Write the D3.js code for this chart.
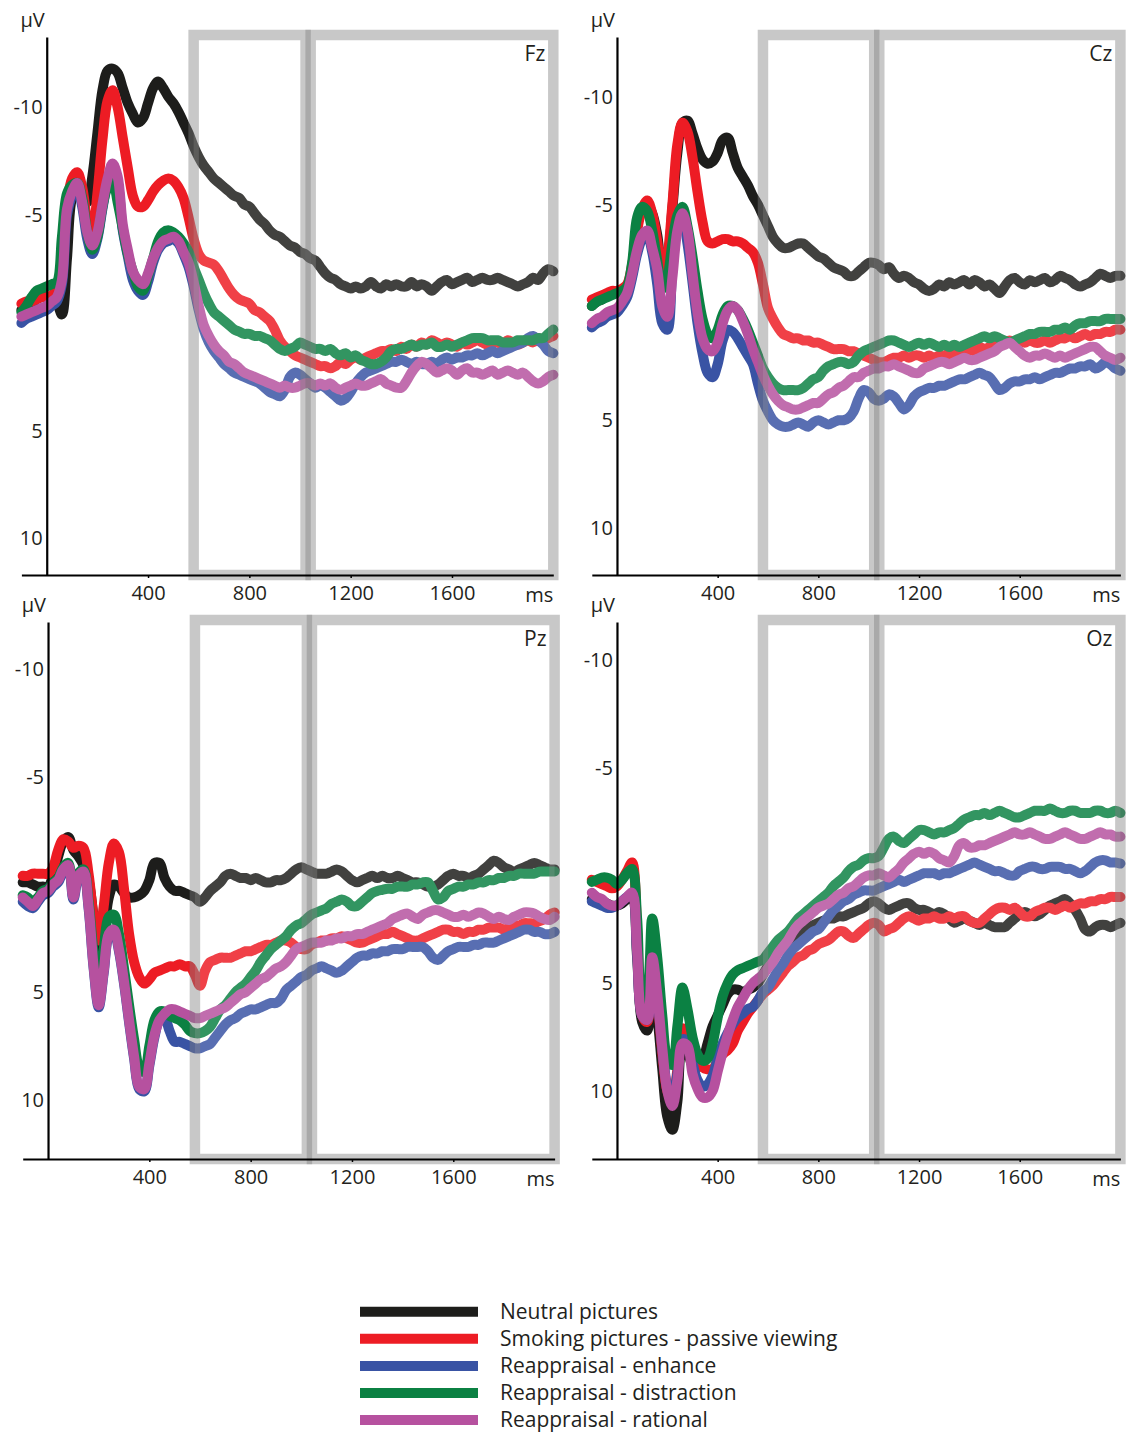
<!DOCTYPE html>
<html>
<head>
<meta charset="utf-8">
<script src="https://cdn.jsdelivr.net/npm/d3@7"></script>
<style>
  body { margin: 0; background: #fff; }
  text { font-family: "Open Sans", sans-serif; fill: #231f20; }
</style>
</head>
<body>
<div id="chart"></div>
<script>
// Canvas size
var svgWidth = 1127;
var svgHeight = 1433;

// Sample times in ms (one sample every 20 ms, -100 .. 2000)
var times = d3.range(-100, 2001, 20);

// Conditions and their colours (legend order = drawing order)
var conditions = ["Neutral pictures", "Smoking pictures - passive viewing",
  "Reappraisal - enhance", "Reappraisal - distraction", "Reappraisal - rational"];
var colors = ["#1d1d1b", "#ed1c24", "#3953a4", "#0b8143", "#b6519f"];

// Tick labels
var xTicks = [400, 800, 1200, 1600];
var yTicks = [-10, -5, 5, 10];

// Analysis windows (ms)
var windows = [[580, 1022], [1042, 2000]];

// ---- Fz (µV) ----
var fzNeutral = [-0.6,-0.7,-0.9,-1.1,-1.2,-1.2,-1.0,-0.9,-0.4,-3.0,
  -5.8,-6.2,-5.8,-5.6,-6.8,-8.8,-10.8,-11.7,-11.8,-11.6,
  -10.9,-10.2,-9.7,-9.3,-9.5,-10.2,-10.9,-11.2,-10.9,-10.5,
  -10.2,-9.8,-9.3,-8.8,-8.2,-7.7,-7.3,-7.0,-6.7,-6.5,
  -6.3,-6.1,-5.9,-5.8,-5.5,-5.4,-5.1,-4.8,-4.6,-4.3,
  -4.1,-4.0,-3.8,-3.6,-3.5,-3.3,-3.2,-3.0,-2.9,-2.6,
  -2.3,-2.1,-2.0,-1.8,-1.7,-1.6,-1.7,-1.6,-1.7,-1.9,
  -1.7,-1.6,-1.8,-1.7,-1.8,-1.7,-1.7,-1.9,-1.7,-1.8,
  -1.7,-1.5,-1.7,-1.9,-2.0,-1.8,-1.9,-2.0,-2.1,-1.9,
  -2.0,-2.1,-2.0,-2.0,-2.1,-2.0,-1.9,-1.8,-1.7,-1.8,
  -1.9,-2.1,-2.0,-2.3,-2.5,-2.4];
var fzSmoking = [-0.9,-1.0,-1.0,-1.1,-1.2,-1.2,-1.3,-1.5,-2.5,-5.5,
  -6.7,-7.0,-6.3,-4.8,-4.2,-6.0,-8.5,-10.3,-10.8,-10.0,
  -8.6,-7.2,-5.9,-5.4,-5.4,-5.7,-6.1,-6.4,-6.6,-6.7,
  -6.6,-6.3,-5.8,-4.9,-3.9,-3.2,-2.9,-2.8,-2.7,-2.4,
  -2.0,-1.6,-1.3,-1.1,-1.0,-0.9,-0.6,-0.5,-0.3,-0.1,
  0.3,0.8,1.1,1.3,1.5,1.6,1.7,1.8,1.9,2.0,
  2.0,2.1,2.0,1.8,1.9,1.7,1.6,1.7,1.6,1.5,
  1.4,1.3,1.3,1.2,1.3,1.1,1.2,1.0,1.1,0.9,
  1.0,0.8,0.9,1.0,0.9,1.0,1.1,0.9,1.0,0.9,
  0.8,0.9,1.0,0.9,0.9,1.0,0.8,0.9,1.0,0.9,
  0.8,0.9,0.7,0.8,0.7,0.6];
var fzEnhance = [0.0,-0.2,-0.3,-0.4,-0.5,-0.6,-0.8,-1.0,-1.8,-5.0,
  -5.9,-6.3,-5.4,-3.9,-3.2,-3.9,-5.3,-6.5,-7.1,-6.5,
  -4.3,-3.1,-2.0,-1.5,-1.3,-1.9,-2.8,-3.4,-3.7,-3.8,
  -3.9,-3.7,-3.2,-2.6,-1.7,-0.6,0.3,0.9,1.3,1.6,
  1.9,2.1,2.3,2.4,2.5,2.6,2.7,2.8,3.0,3.2,
  3.3,3.4,3.1,2.5,2.3,2.4,2.6,2.8,3.0,2.9,
  3.0,3.2,3.4,3.6,3.5,3.2,2.8,2.5,2.3,2.2,
  2.1,2.0,1.9,1.8,1.8,1.7,1.8,1.9,1.8,1.9,
  1.9,1.8,1.9,1.7,1.6,1.7,1.6,1.6,1.5,1.5,
  1.4,1.5,1.4,1.3,1.4,1.3,1.2,1.1,1.0,0.9,
  0.7,0.6,0.8,1.0,1.3,1.4];
var fzDistraction = [-0.5,-0.8,-1.2,-1.5,-1.6,-1.7,-1.8,-1.9,-4.0,-6.0,
  -6.4,-6.5,-5.8,-4.2,-3.4,-4.0,-5.4,-6.3,-6.6,-5.6,
  -4.4,-3.2,-2.4,-1.7,-1.5,-2.2,-3.0,-3.8,-4.2,-4.3,
  -4.2,-4.0,-3.7,-3.3,-2.6,-2.0,-1.4,-0.9,-0.5,-0.3,
  -0.1,0.1,0.3,0.4,0.5,0.5,0.6,0.6,0.7,0.8,
  1.0,1.2,1.3,1.2,1.1,0.9,1.0,1.1,1.2,1.2,
  1.3,1.2,1.4,1.5,1.4,1.6,1.5,1.7,1.8,1.9,
  1.9,1.8,1.6,1.3,1.2,1.2,1.1,1.0,1.1,1.0,
  1.0,0.9,1.1,1.1,1.0,1.1,1.0,0.9,0.8,0.7,
  0.7,0.7,0.8,0.8,0.8,0.9,0.9,0.9,0.8,0.8,
  0.8,0.8,0.7,0.7,0.5,0.3];
var fzRational = [-0.3,-0.4,-0.5,-0.6,-0.7,-0.8,-1.0,-1.2,-2.0,-5.3,
  -6.1,-6.5,-5.6,-4.2,-3.6,-4.2,-5.5,-6.7,-7.4,-6.8,
  -4.6,-3.4,-2.4,-2.0,-1.8,-2.3,-3.0,-3.5,-3.8,-3.9,
  -4.0,-3.8,-3.3,-2.8,-1.9,-0.8,0.1,0.6,1.0,1.3,
  1.5,1.8,1.9,2.1,2.3,2.4,2.5,2.6,2.7,2.8,
  2.9,3.0,2.9,3.0,3.0,2.9,2.8,2.8,2.9,2.8,
  2.9,2.8,3.0,3.1,3.0,2.9,2.8,2.9,2.9,2.8,
  2.7,2.6,2.8,2.9,3.0,3.0,2.7,2.3,2.0,1.8,
  1.9,2.1,2.3,2.2,2.1,2.2,2.4,2.2,2.1,2.3,
  2.3,2.4,2.3,2.2,2.4,2.3,2.2,2.3,2.4,2.3,
  2.5,2.7,2.8,2.7,2.5,2.4];

// ---- Cz (µV) ----
var czNeutral = [-0.3,-0.5,-0.6,-0.8,-0.9,-1.0,-1.0,-1.1,-2.0,-4.0,
  -4.8,-5.0,-4.6,-3.6,-2.0,-2.4,-4.8,-7.4,-8.8,-8.9,
  -8.3,-7.6,-7.1,-6.9,-7.0,-7.4,-8.0,-8.1,-7.4,-6.7,
  -6.3,-5.9,-5.4,-5.0,-4.5,-4.0,-3.5,-3.2,-3.0,-3.0,
  -3.1,-3.2,-3.2,-3.0,-2.8,-2.6,-2.5,-2.3,-2.1,-2.0,
  -1.9,-1.7,-1.7,-1.9,-2.1,-2.3,-2.3,-2.2,-2.0,-2.1,
  -1.8,-1.6,-1.7,-1.6,-1.4,-1.3,-1.1,-1.0,-1.1,-1.3,
  -1.2,-1.4,-1.3,-1.4,-1.5,-1.3,-1.5,-1.4,-1.2,-1.3,
  -1.1,-0.9,-1.2,-1.5,-1.6,-1.4,-1.3,-1.5,-1.4,-1.5,
  -1.6,-1.4,-1.5,-1.7,-1.6,-1.5,-1.3,-1.2,-1.3,-1.4,
  -1.6,-1.8,-1.7,-1.6,-1.7,-1.7];
var czSmoking = [-0.6,-0.7,-0.8,-0.9,-1.0,-1.0,-1.1,-1.3,-2.2,-3.8,
  -4.8,-5.2,-4.6,-3.3,-1.8,-2.6,-5.0,-7.8,-8.8,-8.4,
  -7.2,-5.6,-4.2,-3.3,-3.2,-3.3,-3.4,-3.4,-3.3,-3.3,
  -3.2,-3.0,-2.8,-2.3,-1.3,-0.2,0.3,0.7,1.0,1.1,
  1.2,1.2,1.3,1.3,1.4,1.4,1.5,1.6,1.7,1.7,
  1.7,1.8,1.8,1.9,2.0,2.1,2.2,2.3,2.3,2.2,
  2.1,2.1,2.0,2.1,2.0,2.0,2.1,2.0,2.1,2.0,
  2.0,1.9,2.0,1.8,1.9,1.7,1.8,1.6,1.7,1.6,
  1.5,1.4,1.4,1.3,1.4,1.3,1.4,1.3,1.4,1.4,
  1.3,1.4,1.3,1.2,1.2,1.1,1.2,1.1,1.0,1.1,
  1.0,1.0,0.9,0.9,0.8,0.8];
var czEnhance = [0.7,0.5,0.4,0.2,0.1,0.0,-0.3,-0.7,-1.6,-2.7,
  -3.4,-3.6,-2.8,-1.3,0.5,0.8,-2.0,-4.0,-4.4,-3.2,
  -1.4,0.5,1.9,2.8,3.0,2.4,1.3,0.8,0.9,1.2,
  1.6,2.0,2.4,3.3,4.1,4.6,5.0,5.2,5.3,5.3,
  5.2,5.1,5.2,5.3,5.1,5.0,5.1,5.2,5.1,5.0,
  5.0,4.9,4.6,4.0,3.6,3.7,4.0,4.1,4.0,3.8,
  3.9,4.2,4.5,4.3,3.9,3.7,3.6,3.5,3.5,3.4,
  3.4,3.3,3.2,3.1,3.1,3.0,2.9,2.8,2.9,3.0,
  3.3,3.6,3.5,3.3,3.2,3.2,3.1,3.1,3.0,3.1,
  3.0,2.9,2.8,2.8,2.7,2.6,2.6,2.5,2.5,2.4,
  2.6,2.5,2.3,2.4,2.6,2.7];
var czDistraction = [-0.3,-0.5,-0.6,-0.7,-0.8,-0.9,-1.0,-1.2,-2.3,-4.4,
  -4.9,-4.7,-3.8,-2.4,-1.1,-1.6,-3.2,-4.5,-4.9,-4.0,
  -2.6,-1.0,0.3,1.0,1.2,0.8,0.1,-0.3,-0.3,-0.1,
  0.3,0.8,1.4,2.0,2.6,3.0,3.3,3.5,3.6,3.6,
  3.6,3.6,3.5,3.3,3.1,3.0,2.7,2.5,2.4,2.3,
  2.3,2.4,2.3,2.0,1.8,1.7,1.6,1.5,1.4,1.3,
  1.3,1.4,1.5,1.6,1.5,1.4,1.5,1.4,1.5,1.6,
  1.5,1.6,1.5,1.6,1.5,1.4,1.3,1.2,1.1,1.2,
  1.1,1.2,1.3,1.4,1.3,1.2,1.1,1.0,1.0,0.9,
  0.9,0.9,0.8,0.8,0.7,0.8,0.6,0.5,0.5,0.4,
  0.4,0.4,0.3,0.3,0.3,0.3];
var czRational = [0.5,0.3,0.2,0.0,-0.1,-0.2,-0.5,-0.9,-1.8,-2.9,
  -3.6,-3.8,-3.0,-2.0,-0.3,0.2,-1.6,-3.8,-4.6,-3.8,
  -1.8,0.0,1.2,1.7,1.8,1.4,0.5,-0.1,-0.3,-0.1,
  0.4,1.0,1.7,2.3,2.9,3.4,3.8,4.1,4.3,4.4,
  4.5,4.5,4.4,4.3,4.2,4.2,4.0,3.8,3.7,3.5,
  3.4,3.2,3.0,3.0,2.8,2.7,2.6,2.6,2.5,2.5,
  2.4,2.5,2.6,2.7,2.8,2.8,2.6,2.5,2.4,2.3,
  2.3,2.4,2.3,2.2,2.1,2.2,2.2,2.1,2.0,1.9,
  1.8,1.6,1.5,1.4,1.6,1.8,2.0,2.1,2.0,2.0,
  1.9,2.0,2.1,2.0,2.1,2.0,1.9,1.8,1.7,1.6,
  1.6,1.8,2.0,2.1,2.2,2.1];

// ---- Pz (µV) ----
var pzNeutral = [-0.1,-0.1,0.0,0.1,0.1,0.1,-0.4,-1.3,-2.0,-2.2,
  -1.6,-1.3,-0.9,-0.2,1.5,3.0,2.2,0.6,0.0,0.1,
  0.4,0.6,0.6,0.5,0.3,-0.2,-1.0,-1.0,-0.3,0.1,
  0.3,0.3,0.4,0.5,0.6,0.8,0.6,0.3,0.1,-0.1,
  -0.4,-0.5,-0.4,-0.3,-0.3,-0.2,-0.3,-0.2,-0.1,-0.1,
  -0.2,-0.2,-0.3,-0.5,-0.7,-0.8,-0.7,-0.6,-0.5,-0.5,
  -0.5,-0.6,-0.7,-0.6,-0.4,-0.2,-0.1,-0.2,-0.3,-0.4,
  -0.3,-0.4,-0.3,-0.3,-0.4,-0.3,-0.2,-0.1,-0.1,0.0,
  0.1,0.1,0.0,-0.2,-0.4,-0.5,-0.4,-0.4,-0.3,-0.4,
  -0.5,-0.7,-0.9,-1.1,-1.0,-0.8,-0.7,-0.6,-0.7,-0.8,
  -0.9,-1.0,-0.9,-0.8,-0.7,-0.7];
var pzSmoking = [-0.4,-0.4,-0.5,-0.5,-0.5,-0.5,-0.8,-1.6,-2.1,-2.0,
  -1.7,-1.8,-1.7,-0.5,1.5,2.6,1.0,-1.0,-1.9,-1.5,
  0.2,2.3,3.6,4.3,4.6,4.4,4.1,4.0,3.9,3.8,
  3.8,3.7,3.8,3.8,4.2,4.7,4.0,3.6,3.5,3.4,
  3.4,3.4,3.3,3.2,3.1,3.1,3.0,2.9,2.8,2.8,
  2.7,2.6,2.6,2.7,2.9,3.0,3.0,2.8,2.7,2.6,
  2.6,2.5,2.5,2.4,2.5,2.6,2.7,2.7,2.6,2.5,
  2.4,2.3,2.3,2.2,2.3,2.4,2.5,2.6,2.6,2.5,
  2.4,2.3,2.2,2.1,2.1,2.2,2.2,2.3,2.2,2.2,
  2.1,2.1,2.0,2.0,2.0,2.1,2.0,1.9,1.9,1.8,
  1.8,1.8,1.7,1.6,1.4,1.3];
var pzEnhance = [0.8,1.0,1.1,0.8,0.5,0.4,0.1,-0.1,-0.6,-0.8,
  0.7,-0.3,-0.5,1.1,3.9,5.7,4.1,2.4,2.2,3.1,
  4.6,6.4,8.1,9.5,9.6,8.4,7.1,6.3,6.2,6.8,
  7.3,7.3,7.4,7.5,7.6,7.6,7.5,7.4,7.1,6.8,
  6.5,6.3,6.2,6.0,5.9,5.8,5.8,5.7,5.6,5.5,
  5.5,5.3,4.9,4.7,4.5,4.3,4.2,4.0,3.9,3.8,
  3.9,4.0,4.1,4.0,3.8,3.6,3.4,3.3,3.3,3.2,
  3.2,3.1,3.1,3.0,3.0,3.0,2.9,2.9,2.9,2.9,
  3.1,3.4,3.5,3.3,3.1,3.0,2.9,2.9,2.9,2.8,
  2.8,2.7,2.7,2.7,2.6,2.5,2.4,2.3,2.2,2.1,
  2.1,2.2,2.2,2.3,2.3,2.2];
var pzDistraction = [0.5,0.6,0.8,0.6,0.3,0.2,-0.1,-0.3,-0.8,-1.0,
  0.4,-0.5,-0.7,0.8,3.2,4.8,3.0,1.5,1.4,2.3,
  3.9,5.6,7.2,8.5,8.7,7.5,6.3,5.9,5.9,6.1,
  6.2,6.3,6.5,6.8,6.9,6.9,6.8,6.6,6.2,5.8,
  5.6,5.3,5.0,4.8,4.6,4.3,4.0,3.6,3.3,3.0,
  2.8,2.6,2.4,2.1,1.9,1.8,1.6,1.4,1.3,1.2,
  1.1,0.9,0.8,0.7,0.8,1.0,1.0,0.8,0.6,0.4,
  0.3,0.25,0.2,0.2,0.1,0.1,0.1,0.0,0.0,-0.1,
  -0.1,0.3,0.7,0.6,0.3,0.2,0.1,0.1,0.0,0.0,
  -0.1,-0.1,-0.2,-0.2,-0.3,-0.3,-0.4,-0.4,-0.5,-0.5,
  -0.5,-0.5,-0.6,-0.6,-0.6,-0.6];
var pzRational = [0.6,0.8,1.0,0.7,0.4,0.3,0.0,-0.2,-0.7,-0.9,
  0.6,-0.4,-0.6,1.0,3.8,5.6,4.0,2.3,2.1,3.0,
  4.5,6.3,8.0,9.4,9.5,8.3,7.0,6.3,6.0,5.8,
  5.8,5.9,6.0,6.1,6.2,6.2,6.1,6.0,5.9,5.8,
  5.7,5.5,5.3,5.1,5.0,4.8,4.6,4.4,4.3,4.1,
  3.9,3.8,3.6,3.3,3.0,2.9,2.8,2.7,2.7,2.7,
  2.6,2.6,2.5,2.5,2.4,2.4,2.3,2.3,2.2,2.1,
  2.0,1.9,1.8,1.6,1.5,1.4,1.35,1.5,1.6,1.4,
  1.3,1.2,1.2,1.3,1.4,1.5,1.5,1.4,1.5,1.4,
  1.3,1.35,1.5,1.6,1.5,1.6,1.65,1.5,1.4,1.3,
  1.3,1.35,1.5,1.6,1.65,1.5];

// ---- Oz (µV) ----
var ozNeutral = [1.1,1.1,1.2,1.3,1.4,1.4,1.3,1.1,0.9,3.8,
  6.8,7.2,5.0,6.5,9.0,11.2,11.8,10.5,8.0,8.2,
  8.8,8.9,8.6,7.8,7.0,6.5,6.0,5.5,5.3,5.3,
  5.4,5.3,5.2,5.0,4.6,4.2,3.8,3.5,3.3,3.1,
  2.9,2.7,2.5,2.4,2.3,2.2,2.1,2.0,2.0,1.9,
  1.9,1.8,1.7,1.6,1.5,1.3,1.2,1.3,1.5,1.6,
  1.5,1.4,1.3,1.3,1.5,1.6,1.6,1.7,1.8,1.7,
  1.8,2.0,2.2,2.1,2.0,2.1,2.2,2.3,2.2,2.3,
  2.4,2.4,2.4,2.2,2.0,1.8,1.7,1.8,1.9,1.8,
  1.6,1.4,1.3,1.2,1.1,1.3,1.6,2.0,2.5,2.6,
  2.4,2.3,2.3,2.4,2.3,2.2];
var ozSmoking = [0.2,0.3,0.4,0.5,0.6,0.5,0.2,-0.2,-0.6,2.5,
  6.5,6.8,4.0,5.6,8.2,10.0,10.5,9.0,7.1,7.3,
  8.0,8.6,8.9,9.0,9.0,8.6,8.3,8.1,7.8,7.2,
  6.8,6.4,6.1,5.8,5.5,5.3,5.1,4.8,4.5,4.2,
  4.0,3.8,3.7,3.5,3.4,3.2,3.1,3.0,2.8,2.6,
  2.6,2.8,2.9,2.7,2.5,2.3,2.2,2.3,2.6,2.5,
  2.4,2.2,2.0,1.9,2.0,2.1,2.0,2.0,1.9,2.0,
  2.0,1.9,2.0,1.9,1.9,2.1,2.2,2.2,2.0,1.8,
  1.6,1.5,1.5,1.6,1.5,1.7,1.9,1.9,1.7,1.6,
  1.5,1.5,1.6,1.5,1.4,1.5,1.4,1.3,1.3,1.2,
  1.2,1.1,1.1,1.0,1.0,1.0];
var ozEnhance = [1.2,1.3,1.4,1.5,1.5,1.4,1.2,1.0,0.9,3.6,
  6.5,6.7,3.9,5.5,8.0,9.8,10.4,9.2,7.6,7.7,
  8.7,9.5,9.8,9.7,9.3,8.5,7.8,7.3,6.9,6.6,
  6.4,6.2,6.1,5.8,5.4,5.2,4.8,4.4,4.1,3.7,
  3.4,3.2,3.0,2.8,2.6,2.5,2.2,1.9,1.6,1.4,
  1.2,1.1,0.9,0.8,0.7,0.7,0.7,0.6,0.5,0.4,
  0.3,0.2,0.3,0.2,0.1,0.0,-0.1,-0.1,-0.1,0.0,
  -0.1,-0.1,-0.2,-0.3,-0.4,-0.5,-0.6,-0.5,-0.4,-0.3,
  -0.2,-0.2,-0.1,0.0,0.0,-0.2,-0.3,-0.4,-0.4,-0.3,
  -0.3,-0.4,-0.4,-0.4,-0.3,-0.3,-0.2,-0.1,-0.2,-0.4,
  -0.6,-0.7,-0.7,-0.6,-0.6,-0.55];
var ozDistraction = [0.3,0.2,0.1,0.1,0.2,0.4,0.2,-0.1,-0.3,2.0,
  6.0,5.5,2.0,3.8,6.5,8.5,8.8,7.0,5.2,6.2,
  7.5,8.3,8.6,8.5,7.8,6.6,5.6,5.0,4.6,4.4,
  4.3,4.2,4.1,4.0,3.9,3.6,3.3,3.0,2.8,2.6,
  2.3,2.0,1.8,1.6,1.4,1.2,1.0,0.8,0.5,0.3,
  0.1,-0.2,-0.4,-0.5,-0.7,-0.8,-0.8,-0.9,-1.3,-1.7,
  -1.8,-1.6,-1.5,-1.7,-1.9,-2.1,-2.1,-2.0,-1.9,-2.0,
  -2.0,-2.1,-2.2,-2.4,-2.6,-2.7,-2.8,-2.8,-2.9,-2.8,
  -2.9,-3.0,-2.9,-2.8,-2.7,-2.7,-2.8,-2.9,-3.0,-3.0,
  -3.0,-3.1,-3.0,-2.9,-2.9,-3.0,-3.0,-2.9,-2.9,-2.9,
  -3.0,-3.0,-2.9,-2.9,-3.0,-2.9];
var ozRational = [0.8,1.0,1.1,1.3,1.4,1.4,1.2,1.0,0.8,3.5,
  6.5,6.7,3.8,5.5,8.0,10.0,10.7,9.5,7.8,7.9,
  9.2,9.9,10.3,10.3,10.0,9.1,8.2,7.4,6.7,6.1,
  5.7,5.3,5.0,4.8,4.6,4.3,4.0,3.6,3.3,3.0,
  2.6,2.3,2.1,1.9,1.7,1.5,1.4,1.3,1.1,0.9,
  0.8,0.6,0.5,0.3,0.1,0.0,0.0,-0.1,0.0,0.1,
  -0.1,-0.3,-0.6,-0.8,-1.0,-1.1,-1.0,-1.1,-1.0,-0.8,
  -0.7,-0.6,-0.9,-1.4,-1.5,-1.3,-1.3,-1.4,-1.4,-1.5,
  -1.6,-1.7,-1.8,-1.9,-2.0,-1.9,-1.9,-2.0,-1.9,-1.8,
  -1.7,-1.7,-1.8,-1.9,-2.0,-1.9,-1.8,-1.7,-1.7,-1.8,
  -1.9,-2.0,-1.9,-1.9,-1.8,-1.8];

// Panels: electrode name, its five series and where it sits on the page
var panels = [
  { name: "Fz", series: [fzNeutral, fzSmoking, fzEnhance, fzDistraction, fzRational],
    left: 21.4, right: 553.3, top: 37, bottom: 575, vTop: -13.27, vBottom: 11.69 },
  { name: "Cz", series: [czNeutral, czSmoking, czEnhance, czDistraction, czRational],
    left: 591.8, right: 1120.4, top: 37, bottom: 575, vTop: -12.78, vBottom: 12.18 },
  { name: "Pz", series: [pzNeutral, pzSmoking, pzEnhance, pzDistraction, pzRational],
    left: 22.7, right: 554.6, top: 622, bottom: 1159, vTop: -12.18, vBottom: 12.74 },
  { name: "Oz", series: [ozNeutral, ozSmoking, ozEnhance, ozDistraction, ozRational],
    left: 591.8, right: 1120.4, top: 622, bottom: 1159, vTop: -11.76, vBottom: 13.16 }
];

var svg = d3.select("#chart").append("svg")
  .attr("width", svgWidth)
  .attr("height", svgHeight);

panels.forEach(function(p) {
  var g = svg.append("g");

  // negative up, as usual for ERPs
  var x = d3.scaleLinear().domain([-100, 2000]).range([p.left, p.right]);
  var y = d3.scaleLinear().domain([p.vTop, p.vBottom]).range([p.top, p.bottom]);

  var line = d3.line()
    .x(function(d, i) { return x(times[i]); })
    .y(function(d) { return y(d); })
    .curve(d3.curveCatmullRom.alpha(0.5));

  // waveforms
  g.selectAll("path.wave")
    .data(p.series)
    .enter()
    .append("path")
    .attr("class", "wave")
    .attr("d", line)
    .attr("fill", "none")
    .attr("stroke", function(d, i) { return colors[i]; })
    .attr("stroke-width", 10)
    .attr("stroke-linejoin", "round")
    .attr("stroke-linecap", "round");

  // grey analysis windows (drawn over the waves, semi transparent)
  g.selectAll("rect.win")
    .data(windows)
    .enter()
    .append("rect")
    .attr("class", "win")
    .attr("x", function(d) { return x(d[0]); })
    .attr("width", function(d) { return x(d[1]) - x(d[0]); })
    .attr("y", p.top - 2)
    .attr("height", p.bottom - p.top + 2)
    .attr("fill", "#fff")
    .attr("fill-opacity", 0.16)
    .attr("stroke", "#808080")
    .attr("stroke-opacity", 0.43)
    .attr("stroke-width", 10.5);

  // x axis
  var xAxis = d3.axisBottom(x)
    .tickValues(xTicks)
    .tickSize(3)
    .tickSizeOuter(0)
    .tickPadding(8)
    .tickFormat(d3.format("d"));
  var gx = g.append("g")
    .attr("transform", "translate(0," + p.bottom + ")")
    .call(xAxis);
  gx.select(".domain").attr("stroke", "#000").attr("stroke-width", 2.2);
  gx.selectAll(".tick line").attr("stroke", "#000").attr("stroke-width", 1.5);
  gx.selectAll(".tick text")
    .style("font-size", "20px")
    .style("font-family", "'Open Sans', sans-serif")
    .attr("fill", "#231f20");

  // y axis through t = 0
  var yAxis = d3.axisLeft(y)
    .tickValues(yTicks)
    .tickSize(0)
    .tickPadding(4)
    .tickFormat(function(d) { return d < 0 ? "-" + Math.abs(d) : d; });
  var gy = g.append("g")
    .attr("transform", "translate(" + x(0) + ",0)")
    .call(yAxis);
  gy.select(".domain").attr("stroke", "#000").attr("stroke-width", 2.2);
  gy.selectAll(".tick text")
    .style("font-size", "20px")
    .style("font-family", "'Open Sans', sans-serif")
    .attr("fill", "#231f20");

  // unit labels
  g.append("text")
    .attr("x", x(0) - 2)
    .attr("y", p.top - 10)
    .attr("text-anchor", "end")
    .style("font-size", "20px")
    .text("µV");

  g.append("text")
    .attr("x", p.right)
    .attr("y", p.bottom + 27)
    .attr("text-anchor", "end")
    .style("font-size", "20px")
    .text("ms");

  // electrode name
  g.append("text")
    .attr("x", x(2000) - 8)
    .attr("y", p.top + 24)
    .attr("text-anchor", "end")
    .style("font-size", "21px")
    .text(p.name);
});

// Legend
var legend = svg.append("g")
  .attr("transform", "translate(360, 1311.7)");

var rows = legend.selectAll("g")
  .data(conditions)
  .enter()
  .append("g")
  .attr("transform", function(d, i) { return "translate(0," + (i * 27.1) + ")"; });

rows.append("line")
  .attr("x1", 0)
  .attr("x2", 118)
  .attr("stroke", function(d, i) { return colors[i]; })
  .attr("stroke-width", 10);

rows.append("text")
  .attr("x", 140)
  .attr("y", 7)
  .style("font-size", "21px")
  .text(function(d) { return d; });
</script>
</body>
</html>
